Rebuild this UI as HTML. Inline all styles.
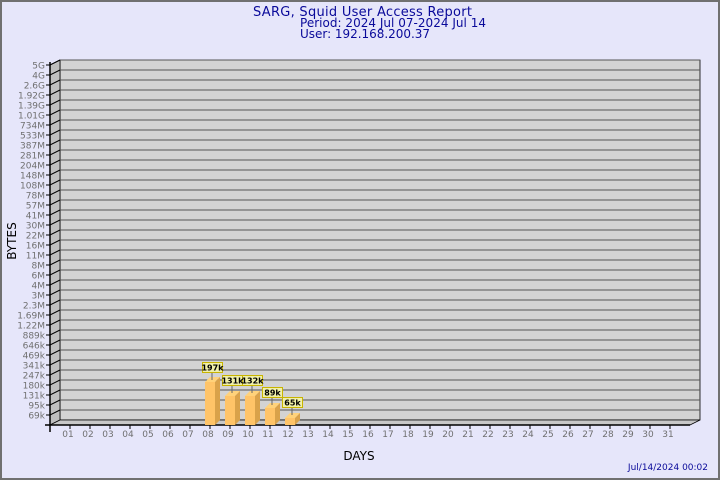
<!DOCTYPE html>
<html><head><meta charset="utf-8"><style>
html,body{margin:0;padding:0;background:#e6e6fa}
svg{display:block;font-family:"DejaVu Sans","Liberation Sans",sans-serif}
</style></head><body>
<svg width="720" height="480" viewBox="0 0 720 480" xmlns="http://www.w3.org/2000/svg">
<rect x="0" y="0" width="720" height="480" fill="#e6e6fa"/>
<rect x="1" y="1" width="718" height="478" fill="none" stroke="#707070" stroke-width="2"/>
<text x="253" y="16" font-size="13" fill="#0a0a9a" textLength="219">SARG, Squid User Access Report</text>
<text x="300" y="27" font-size="12" fill="#0a0a9a" textLength="186">Period: 2024 Jul 07-2024 Jul 14</text>
<text x="300" y="38" font-size="12" fill="#0a0a9a" textLength="130">User: 192.168.200.37</text>
<polygon points="60,60 700,60 700,420 60,420" fill="#d3d3d3" stroke="#000" stroke-width="0.8"/>
<polygon points="50,65 60,60 60,420 50,425" fill="#bfbfbf" stroke="#000" stroke-width="0.8"/>
<polygon points="50,425 60,420 700,420 690,425" fill="#c8c8c8" stroke="#000" stroke-width="0.8"/>
<g stroke="#555" stroke-width="1" fill="none">
<path d="M60,60H700M60,70H700M60,80H700M60,90H700M60,100H700M60,110H700M60,120H700M60,130H700M60,140H700M60,150H700M60,160H700M60,170H700M60,180H700M60,190H700M60,200H700M60,210H700M60,220H700M60,230H700M60,240H700M60,250H700M60,260H700M60,270H700M60,280H700M60,290H700M60,300H700M60,310H700M60,320H700M60,330H700M60,340H700M60,350H700M60,360H700M60,370H700M60,380H700M60,390H700M60,400H700M60,410H700"/>
<path stroke="#000" d="M46,65L50,65L60,60M46,75L50,75L60,70M46,85L50,85L60,80M46,95L50,95L60,90M46,105L50,105L60,100M46,115L50,115L60,110M46,125L50,125L60,120M46,135L50,135L60,130M46,145L50,145L60,140M46,155L50,155L60,150M46,165L50,165L60,160M46,175L50,175L60,170M46,185L50,185L60,180M46,195L50,195L60,190M46,205L50,205L60,200M46,215L50,215L60,210M46,225L50,225L60,220M46,235L50,235L60,230M46,245L50,245L60,240M46,255L50,255L60,250M46,265L50,265L60,260M46,275L50,275L60,270M46,285L50,285L60,280M46,295L50,295L60,290M46,305L50,305L60,300M46,315L50,315L60,310M46,325L50,325L60,320M46,335L50,335L60,330M46,345L50,345L60,340M46,355L50,355L60,350M46,365L50,365L60,360M46,375L50,375L60,370M46,385L50,385L60,380M46,395L50,395L60,390M46,405L50,405L60,400M46,415L50,415L60,410"/>
</g>
<line x1="50" y1="62" x2="50" y2="432" stroke="#000" stroke-width="1.5"/>
<line x1="45" y1="425" x2="690" y2="425" stroke="#000" stroke-width="1.5"/>
<g stroke="#000" stroke-width="1">
<path d="M70,425v4M90,425v4M110,425v4M130,425v4M150,425v4M170,425v4M190,425v4M210,425v4M230,425v4M250,425v4M270,425v4M290,425v4M310,425v4M330,425v4M350,425v4M370,425v4M390,425v4M410,425v4M430,425v4M450,425v4M470,425v4M490,425v4M510,425v4M530,425v4M550,425v4M570,425v4M590,425v4M610,425v4M630,425v4M650,425v4M670,425v4"/>
</g>
<g font-size="9" fill="#707070" text-anchor="end">
<text x="45" y="68.5">5G</text><text x="45" y="78.5">4G</text><text x="45" y="88.5">2.6G</text><text x="45" y="98.5">1.92G</text><text x="45" y="108.5">1.39G</text><text x="45" y="118.5">1.01G</text><text x="45" y="128.5">734M</text><text x="45" y="138.5">533M</text><text x="45" y="148.5">387M</text><text x="45" y="158.5">281M</text><text x="45" y="168.5">204M</text><text x="45" y="178.5">148M</text><text x="45" y="188.5">108M</text><text x="45" y="198.5">78M</text><text x="45" y="208.5">57M</text><text x="45" y="218.5">41M</text><text x="45" y="228.5">30M</text><text x="45" y="238.5">22M</text><text x="45" y="248.5">16M</text><text x="45" y="258.5">11M</text><text x="45" y="268.5">8M</text><text x="45" y="278.5">6M</text><text x="45" y="288.5">4M</text><text x="45" y="298.5">3M</text><text x="45" y="308.5">2.3M</text><text x="45" y="318.5">1.69M</text><text x="45" y="328.5">1.22M</text><text x="45" y="338.5">889k</text><text x="45" y="348.5">646k</text><text x="45" y="358.5">469k</text><text x="45" y="368.5">341k</text><text x="45" y="378.5">247k</text><text x="45" y="388.5">180k</text><text x="45" y="398.5">131k</text><text x="45" y="408.5">95k</text><text x="45" y="418.5">69k</text>
</g>
<g font-size="9" fill="#707070" text-anchor="middle">
<text x="68" y="437">01</text><text x="88" y="437">02</text><text x="108" y="437">03</text><text x="128" y="437">04</text><text x="148" y="437">05</text><text x="168" y="437">06</text><text x="188" y="437">07</text><text x="208" y="437">08</text><text x="228" y="437">09</text><text x="248" y="437">10</text><text x="268" y="437">11</text><text x="288" y="437">12</text><text x="308" y="437">13</text><text x="328" y="437">14</text><text x="348" y="437">15</text><text x="368" y="437">16</text><text x="388" y="437">17</text><text x="408" y="437">18</text><text x="428" y="437">19</text><text x="448" y="437">20</text><text x="468" y="437">21</text><text x="488" y="437">22</text><text x="508" y="437">23</text><text x="528" y="437">24</text><text x="548" y="437">25</text><text x="568" y="437">26</text><text x="588" y="437">27</text><text x="608" y="437">28</text><text x="628" y="437">29</text><text x="648" y="437">30</text><text x="668" y="437">31</text>
</g>
<g>
<polygon points="205,382 210,377 220,377 215,382" fill="#ffd27a"/><polygon points="215,382 220,377 220,420 215,425" fill="#d9a24a"/><rect x="205" y="382" width="10" height="43" fill="#ffc468"/>
<polygon points="225,396 230,391 240,391 235,396" fill="#ffd27a"/><polygon points="235,396 240,391 240,420 235,425" fill="#d9a24a"/><rect x="225" y="396" width="10" height="29" fill="#ffc468"/>
<polygon points="245,396 250,391 260,391 255,396" fill="#ffd27a"/><polygon points="255,396 260,391 260,420 255,425" fill="#d9a24a"/><rect x="245" y="396" width="10" height="29" fill="#ffc468"/>
<polygon points="265,408 270,403 280,403 275,408" fill="#ffd27a"/><polygon points="275,408 280,403 280,420 275,425" fill="#d9a24a"/><rect x="265" y="408" width="10" height="17" fill="#ffc468"/>
<polygon points="285,418 290,413 300,413 295,418" fill="#ffd27a"/><polygon points="295,418 300,413 300,420 295,425" fill="#d9a24a"/><rect x="285" y="418" width="10" height="7" fill="#ffc468"/>
</g>
<g stroke="#666" stroke-width="1">
<line x1="212" y1="372" x2="212" y2="380"/><line x1="232" y1="385" x2="232" y2="393"/><line x1="252" y1="385" x2="252" y2="393"/><line x1="272" y1="397" x2="272" y2="405"/><line x1="292" y1="407" x2="292" y2="415"/>
</g>
<g stroke="#c8b400" stroke-width="1" fill="#f0f0a8">
<rect x="202.5" y="362.5" width="20" height="10"/><rect x="222.5" y="375.5" width="20" height="10"/><rect x="242.5" y="375.5" width="20" height="10"/><rect x="262.5" y="387.5" width="20" height="10"/><rect x="282.5" y="397.5" width="20" height="10"/>
</g>
<g font-size="8" fill="#000" text-anchor="middle" font-weight="bold">
<text x="212.5" y="370.5">197k</text><text x="232.5" y="383.5">131k</text><text x="252.5" y="383.5">132k</text><text x="272.5" y="395.5">89k</text><text x="292.5" y="405.5">65k</text>
</g>
<text x="359" y="460" font-size="12" fill="#000" text-anchor="middle">DAYS</text>
<text x="16" y="241" font-size="12" fill="#000" text-anchor="middle" transform="rotate(-90 16 241)">BYTES</text>
<text x="708" y="470" font-size="9" fill="#0a0a9a" text-anchor="end">Jul/14/2024 00:02</text>
</svg>
</body></html>
